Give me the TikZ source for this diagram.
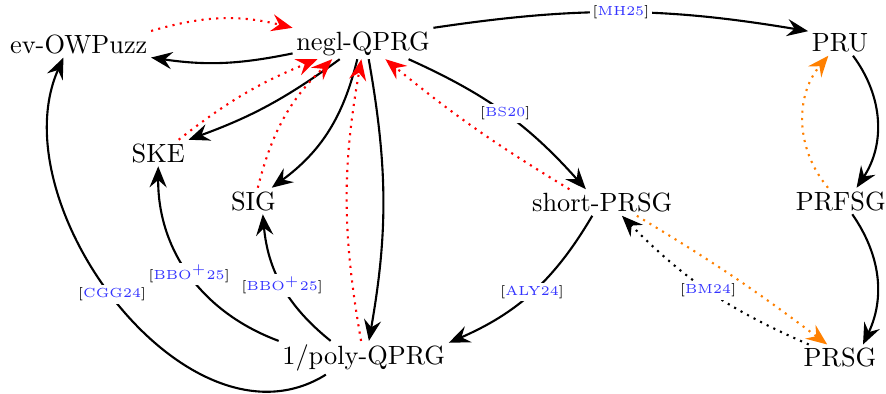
\documentclass[tikz,border=0pt]{standalone}
\usepackage[dvipsnames]{xcolor}
\usetikzlibrary{arrows.meta}

\definecolor{citeblue}{rgb}{0.2, 0.2, 1}
\newcommand{\citelbl}[1]{[\textcolor{citeblue}{#1}]}

\begin{document}
\begin{tikzpicture}[x=1cm, y=1cm, line width=0.8pt,
    prim/.style={inner sep=1pt},
    imp/.style={-{Stealth[length=8pt, width=6.5pt, inset=2.8pt]}},
    sep/.style={imp, dotted, red},
    rev/.style={imp, dotted, orange},
    lbl/.style={fill=white, font=\tiny, inner sep=1pt}]
    \useasboundingbox (0, 0) rectangle (11.813, 5.24);

    % place the primitives
    \node[prim] (ev)    at (1.05, 4.65)  {ev-OWPuzz};
    \node[prim] (negl)  at (4.84, 4.66)  {negl-QPRG};
    \node[prim] (pru)   at (11.2, 4.67)  {PRU};
    \node[prim] (ske)   at (2.11, 3.2)   {SKE};
    \node[prim] (sig)   at (3.38, 2.56)  {SIG};
    \node[prim] (short) at (8.03, 2.54)  {short-PRSG};
    \node[prim] (prfsg) at (11.21, 2.56) {PRFSG};
    \node[prim] (poly)  at (4.85, 0.47)  {1/poly-QPRG};
    \node[prim] (prsg)  at (11.2, 0.47)  {PRSG};

    % draw negl-QPRG and ev-OWPuzz
    \draw[imp] (negl.188) to[bend left=10] (ev.south east);
    \draw[sep] (ev.north east) to[bend left=15] (negl.north west);

    % draw negl-QPRG to PRU
    \draw[imp] (negl.north east) to[bend left=9] node[lbl] {\citelbl{MH25}} (pru.160);

    % draw negl-QPRG and SKE, SIG
    \draw[imp] (negl.214) to[bend left=8] (ske.north east);
    \draw[sep] (ske.33) to[bend left=8] (negl.199);
    \draw[imp] (negl.250) to[bend left=20] (sig.36);
    \draw[sep] (sig.72) to[bend left=16] (negl.207);

    % draw negl-QPRG and 1/poly-QPRG
    \draw[imp] (negl.290) to[bend left=10] (poly.73);
    \draw[sep] (poly.99) to[bend left=10] (negl.264);

    % draw negl-QPRG and short-PRSG
    \draw[imp] (negl.341) to[bend left=12] node[lbl] {\citelbl{BS20}} (short.141);
    \draw[sep] (short.158) to[bend left=4] (negl.325);
    \draw[imp] (short.233) to[bend left=18] node[lbl] {\citelbl{ALY24}} (poly.10);

    % draw short-PRSG and PRSG
    \draw[imp, dotted] (prsg.157) to[bend left=11] node[lbl] {\citelbl{BM24}} (short.326);
    \draw[rev] (short.339) to[bend left=3] (prsg.134);

    % draw right column
    \draw[imp] (pru.-45) to[bend left=35] (prfsg.40);
    \draw[rev] (prfsg.134) to[bend left=40] (pru.228);
    \draw[imp] (prfsg.-49) to[bend left=30] (prsg.30);

    % draw 1/poly-QPRG to the left
    \draw[imp] (poly.153) to[bend left=23] node[lbl] {\citelbl{BBO$^+$25}} (sig.-55);
    \draw[imp] (poly.north west) to[bend left=35] node[lbl] {\citelbl{BBO$^+$25}} (ske.south);
    \draw[imp] (poly.204) to[out=212, in=-114] node[lbl, pos=0.52] {\citelbl{CGG24}} (ev.221);

\end{tikzpicture}
\end{document}
